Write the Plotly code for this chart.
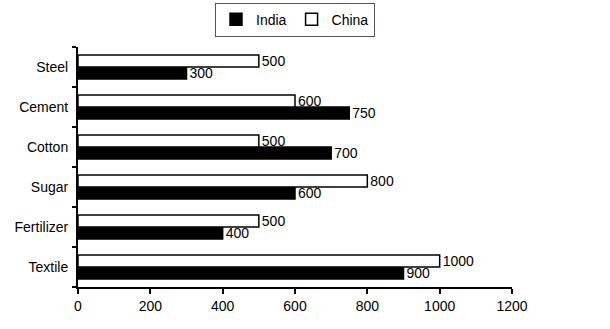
import plotly.graph_objects as go

categories = ["Textile", "Fertilizer", "Sugar", "Cotton", "Cement", "Steel"]
india = [900, 400, 600, 700, 750, 300]
china = [1000, 500, 800, 500, 600, 500]
x_ticks = [0, 200, 400, 600, 800, 1000, 1200]

font = dict(family="Liberation Sans, Arial, sans-serif", size=14, color="black")

fig = go.Figure()
fig.add_trace(go.Bar(
    y=categories, x=india, name="India", orientation="h",
    marker=dict(color="black", line=dict(color="black", width=1.5)),
    text=[str(v) for v in india], textposition="outside", cliponaxis=False,
    constraintext="none", textfont=font,
))
fig.add_trace(go.Bar(
    y=categories, x=china, name="China", orientation="h",
    marker=dict(color="white", line=dict(color="black", width=1.5)),
    text=[str(v) for v in china], textposition="outside", cliponaxis=False,
    constraintext="none", textfont=font,
))

fig.update_layout(
    width=610, height=329,
    margin=dict(l=78, r=98, t=47, b=42, autoexpand=False),
    barmode="group", bargap=0.4, bargroupgap=0,
    plot_bgcolor="white", paper_bgcolor="white",
    font=font,
    legend=dict(
        orientation="h", x=0.5, xanchor="center", y=1.185, yanchor="top",
        bordercolor="#555", borderwidth=1, font=dict(size=14),
        itemwidth=30, tracegroupgap=0, traceorder="normal",
    ),
    xaxis=dict(
        range=[0, 1200], tickvals=x_ticks, ticktext=[str(t) for t in x_ticks],
        showgrid=False, zeroline=False, showline=True, linecolor="black", linewidth=2,
        ticks="outside", ticklen=5, tickwidth=2, tickcolor="black",
        tickfont=dict(size=14),
    ),
    yaxis=dict(
        showgrid=False, showline=True, linecolor="black", linewidth=2,
        ticks="outside", ticklen=4, tickwidth=2, tickcolor="black",
        tickson="boundaries", tickfont=dict(size=14), ticklabelstandoff=5,
    ),
)

fig.write_html("out.html")
